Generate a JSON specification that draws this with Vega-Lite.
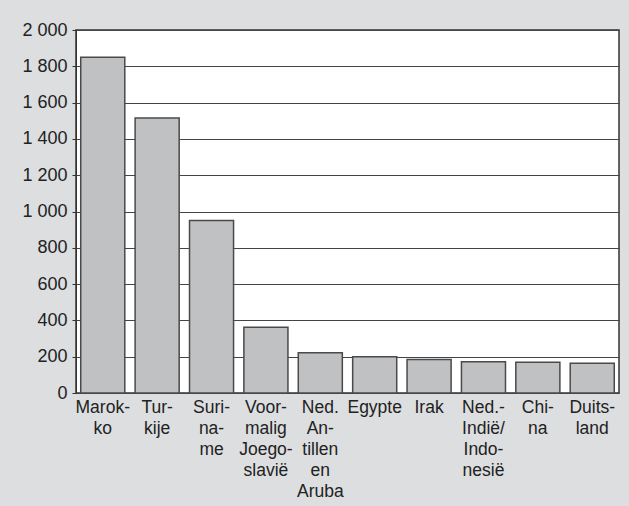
{
  "$schema": "https://vega.github.io/schema/vega-lite/v6.json",
  "autosize": {"type": "none"},
  "width": 543,
  "height": 363,
  "padding": {"left": 76, "top": 30, "right": 10, "bottom": 113},
  "background": "#dddee0",
  "data": {
    "values": [
      {"land": "Marok-|ko", "aantal": 1850},
      {"land": "Tur-|kije", "aantal": 1515},
      {"land": "Suri-|na-|me", "aantal": 950},
      {"land": "Voor-|malig|Joego-|slavië", "aantal": 362},
      {"land": "Ned.|An-|tillen|en|Aruba", "aantal": 222},
      {"land": "Egypte", "aantal": 200},
      {"land": "Irak", "aantal": 185},
      {"land": "Ned.-|Indië/|Indo-|nesië", "aantal": 172},
      {"land": "Chi-|na", "aantal": 169},
      {"land": "Duits-|land", "aantal": 164}
    ]
  },
  "mark": {"type": "bar", "fill": "#c0c1c3", "stroke": "#4a4a4a", "strokeWidth": 1.5},
  "encoding": {
    "x": {
      "field": "land",
      "type": "nominal",
      "sort": null,
      "title": null,
      "scale": {"paddingInner": 0.19, "paddingOuter": 0.087},
      "axis": {
        "labelAngle": 0,
        "labelExpr": "split(datum.value, '|')",
        "labelFont": "Liberation Sans",
        "labelFontSize": 17.5,
        "labelColor": "#222",
        "labelLineHeight": 21,
        "labelPadding": 5,
        "labelBaseline": "top",
        "ticks": false,
        "domain": false
      }
    },
    "y": {
      "field": "aantal",
      "type": "quantitative",
      "title": null,
      "scale": {"domain": [0, 2000], "nice": false},
      "axis": {
        "values": [0, 200, 400, 600, 800, 1000, 1200, 1400, 1600, 1800, 2000],
        "labelExpr": "replace(format(datum.value, ','), ',', ' ')",
        "labelFont": "Liberation Sans",
        "labelFontSize": 18,
        "labelColor": "#222",
        "labelPadding": 5,
        "tickSize": 4,
        "tickColor": "#333",
        "domainColor": "#333",
        "grid": true,
        "gridColor": "#444",
        "gridWidth": 1.2
      }
    }
  },
  "config": {
    "view": {"fill": "white", "stroke": "#333", "strokeWidth": 1.5}
  }
}
